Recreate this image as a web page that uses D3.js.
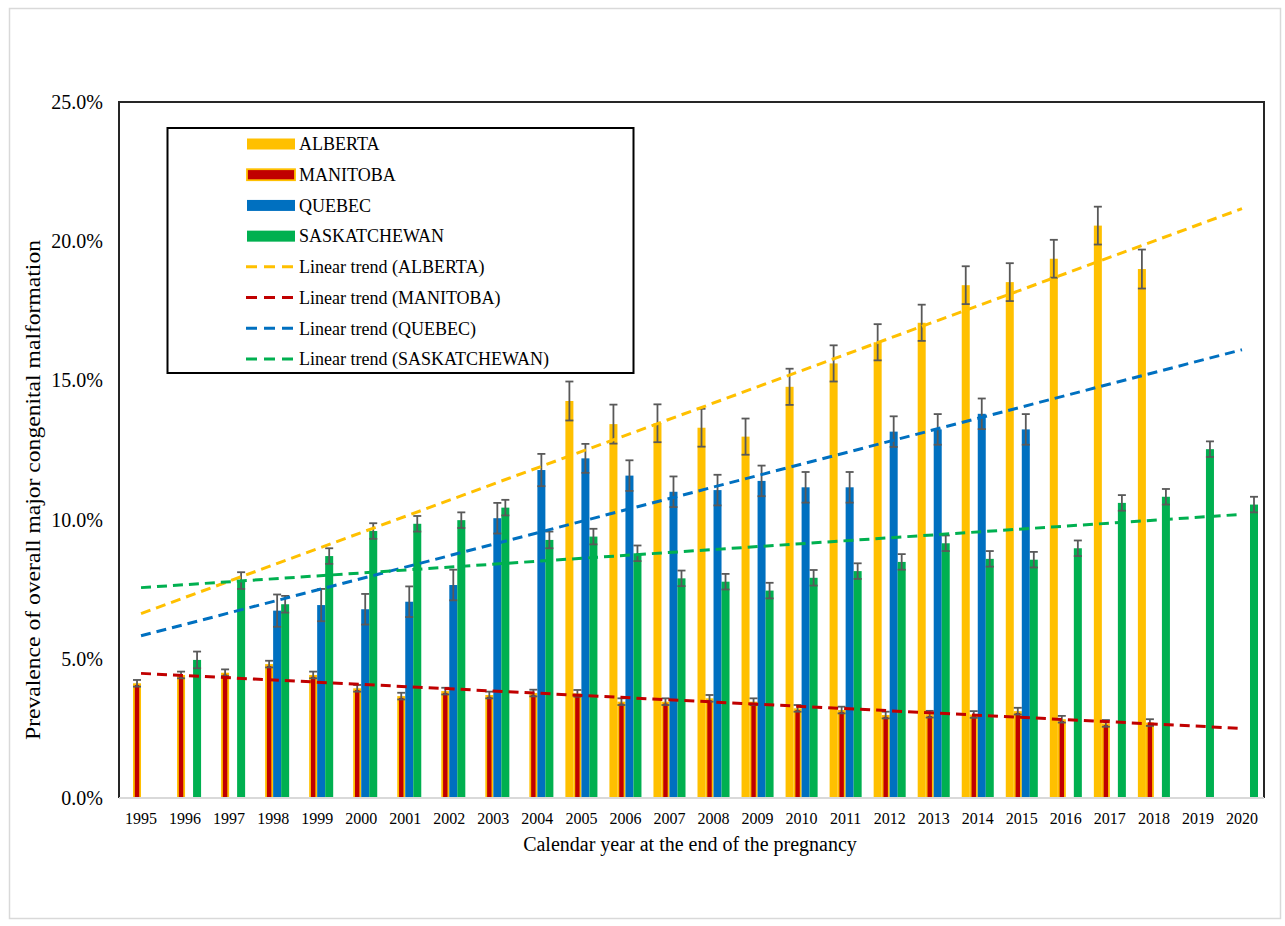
<!DOCTYPE html>
<html>
<head>
<meta charset="utf-8">
<script src="https://cdn.jsdelivr.net/npm/d3@7"></script>
<style>
  body { margin: 0; background: #fff; }
  text { font-family: "Liberation Serif", "Times New Roman", serif; fill: #000; }
</style>
</head>
<body>
<div id="chart"></div>
<script>
// values in percent, null = no data for that year
const years = ["1995","1996","1997","1998","1999","2000","2001","2002","2003","2004","2005","2006","2007",
               "2008","2009","2010","2011","2012","2013","2014","2015","2016","2017","2018","2019","2020"];

const alberta   = [null,null,null,null,null,null,null,null,null,null,
                   14.26,13.43,13.46,13.30,12.98,14.77,15.61,16.37,17.07,18.42,18.53,19.37,20.56,19.00,null,null];
const albertaErr = [null,null,null,null,null,null,null,null,null,null,
                   0.70,0.70,0.68,0.68,0.65,0.65,0.65,0.65,0.65,0.68,0.68,0.68,0.68,0.70,null,null];

const manitoba  = [4.12,4.42,4.50,4.81,4.42,3.94,3.66,3.84,3.70,3.77,3.76,3.46,3.46,
                   3.58,3.46,3.22,3.16,2.98,3.01,3.00,3.12,2.83,2.68,2.71,null,null];
const manitobaErr = [0.12,0.12,0.12,0.12,0.12,0.12,0.12,0.12,0.12,0.12,0.12,0.12,0.12,
                   0.12,0.12,0.12,0.12,0.12,0.12,0.12,0.12,0.12,0.12,0.12,null,null];

const quebec    = [null,null,null,6.73,6.93,6.78,7.05,7.65,10.05,11.78,12.20,11.58,11.00,
                   11.06,11.39,11.16,11.16,13.16,13.24,13.80,13.24,null,null,null,null,null];
const quebecErr = [null,null,null,0.58,0.58,0.55,0.55,0.55,0.55,0.58,0.52,0.55,0.55,
                   0.55,0.55,0.55,0.55,0.55,0.55,0.55,0.55,null,null,null,null,null];

const sask      = [null,4.96,7.81,6.96,8.69,9.59,9.85,9.98,10.43,9.27,9.39,8.79,7.89,
                   7.77,7.45,7.91,8.15,8.48,9.15,8.59,8.56,8.97,10.60,10.82,12.53,10.54];
const saskErr   = [null,0.30,0.30,0.30,0.28,0.28,0.28,0.28,0.28,0.30,0.28,0.28,0.28,
                   0.28,0.28,0.28,0.28,0.28,0.28,0.28,0.28,0.28,0.28,0.28,0.28,0.28];

const yTicks = [0, 5, 10, 15, 20, 25];

const series = [
    {name:"ALBERTA", values:alberta, err:albertaErr, color:"#FFC000"},
    {name:"MANITOBA", values:manitoba, err:manitobaErr, color:"#C00000"},
    {name:"QUEBEC", values:quebec, err:quebecErr, color:"#0070C0"},
    {name:"SASKATCHEWAN", values:sask, err:saskErr, color:"#00B050"}
];

var width = 1285, height = 926;
var plot = {left: 119, right: 1264, top: 102, bottom: 798};

var svg = d3.select("#chart")
    .append("svg")
    .attr("width", width)
    .attr("height", height);

svg.append("rect")
    .attr("x", 0).attr("y", 0)
    .attr("width", width).attr("height", height)
    .attr("fill", "#fff");

// light outer frame
svg.append("rect")
    .attr("x", 9.5).attr("y", 8.5)
    .attr("width", 1271).attr("height", 910)
    .attr("fill", "none")
    .attr("stroke", "#d9d9d9")
    .attr("stroke-width", 1.5);

var x = d3.scaleBand()
    .domain(years)
    .range([plot.left, plot.right]);

var xSub = d3.scaleBand()
    .domain(series.map(s => s.name))
    .range([6, x.bandwidth() - 6]);

var y = d3.scaleLinear()
    .domain([0, 25])
    .range([plot.bottom, plot.top]);

// y axis labels
svg.append("g")
    .attr("transform", "translate(" + plot.left + ",0)")
    .call(d3.axisLeft(y)
        .tickValues(yTicks)
        .tickSize(0)
        .tickPadding(16)
        .tickFormat(d => d.toFixed(1) + "%"))
    .call(g => g.select(".domain").remove())
    .call(g => g.selectAll("text")
        .attr("font-family", "Liberation Serif, Times New Roman, serif")
        .attr("font-size", 20)
        .attr("fill", "#000"));

// x axis labels
svg.append("g")
    .attr("transform", "translate(0," + plot.bottom + ")")
    .call(d3.axisBottom(x).tickSize(0).tickPadding(15))
    .call(g => g.select(".domain").remove())
    .call(g => g.selectAll("text")
        .attr("font-family", "Liberation Serif, Times New Roman, serif")
        .attr("font-size", 16)
        .attr("fill", "#000"));

// bars
series.forEach(s => {
    var pts = years.map((yr, i) => ({year: yr, v: s.values[i], e: s.err[i]})).filter(d => d.v != null);
    var bars = svg.append("g").selectAll("rect")
        .data(pts)
        .enter().append("rect")
        .attr("fill", s.color);
    if (s.name == "MANITOBA") {
        bars.attr("x", d => x(d.year) + xSub(s.name) + 0.9)
            .attr("y", d => y(d.v) + 0.9)
            .attr("width", xSub.bandwidth() - 1.8)
            .attr("height", d => y(0) - y(d.v) - 0.9)
            .attr("stroke", "#FFC000")
            .attr("stroke-width", 1.8);
    } else {
        bars.attr("x", d => x(d.year) + xSub(s.name))
            .attr("y", d => y(d.v))
            .attr("width", xSub.bandwidth())
            .attr("height", d => y(0) - y(d.v));
    }
});

// error bars
series.forEach(s => {
    var pts = years.map((yr, i) => ({year: yr, v: s.values[i], e: s.err[i]})).filter(d => d.v != null);
    var g = svg.append("g")
        .attr("stroke", "#595959")
        .attr("stroke-width", 1.8)
        .attr("fill", "none");
    pts.forEach(d => {
        var cx = x(d.year) + xSub(s.name) + xSub.bandwidth() / 2;
        var y0 = y(d.v - d.e), y1 = y(d.v + d.e);
        g.append("line").attr("x1", cx).attr("x2", cx).attr("y1", y0).attr("y2", y1);
        g.append("line").attr("x1", cx - 4).attr("x2", cx + 4).attr("y1", y0).attr("y2", y0);
        g.append("line").attr("x1", cx - 4).attr("x2", cx + 4).attr("y1", y1).attr("y2", y1);
    });
});

// plot frame, gray category axis on the bottom
svg.append("path")
    .attr("d", "M" + plot.left + "," + plot.bottom + "V" + plot.top + "H" + plot.right + "V" + plot.bottom)
    .attr("fill", "none")
    .attr("stroke", "#262626")
    .attr("stroke-width", 2);
svg.append("line")
    .attr("x1", plot.left).attr("x2", plot.right)
    .attr("y1", plot.bottom).attr("y2", plot.bottom)
    .attr("stroke", "#d9d9d9")
    .attr("stroke-width", 2);

// least squares trend on category index, like excel does
function linearFit(values) {
    var pts = values.map((v, i) => [i + 1, v]).filter(p => p[1] != null);
    var mx = d3.mean(pts, p => p[0]), my = d3.mean(pts, p => p[1]);
    var sxy = d3.sum(pts, p => (p[0] - mx) * (p[1] - my));
    var sxx = d3.sum(pts, p => (p[0] - mx) * (p[0] - mx));
    var slope = sxy / sxx;
    return i => my + slope * (i + 1 - mx);
}

var trendLine = d3.line()
    .x(d => x(d.year) + x.bandwidth() / 2)
    .y(d => y(d.v));

series.forEach(s => {
    var f = linearFit(s.values);
    var ends = [{year: years[0], v: f(0)}, {year: years[years.length - 1], v: f(years.length - 1)}];
    svg.append("path")
        .datum(ends)
        .attr("fill", "none")
        .attr("stroke", s.color)
        .attr("stroke-width", 3)
        .attr("stroke-dasharray", "10,6")
        .attr("d", trendLine);
});

// legend
var legend = svg.append("g");
legend.append("rect")
    .attr("x", 167.5).attr("y", 128)
    .attr("width", 466).attr("height", 245)
    .attr("fill", "#fff")
    .attr("stroke", "#000")
    .attr("stroke-width", 2);

var rowY = d3.scalePoint()
    .domain(d3.range(8))
    .range([144, 359]);

series.forEach((s, i) => {
    var yy = rowY(i);
    var r = legend.append("rect")
        .attr("x", 247).attr("y", yy - 5.5)
        .attr("width", 48).attr("height", 11)
        .attr("fill", s.color);
    if (s.name == "MANITOBA") r.attr("stroke", "#FFC000").attr("stroke-width", 1.8);
    legend.append("text")
        .attr("x", 299).attr("y", yy)
        .attr("dy", "0.35em")
        .attr("font-size", 18)
        .text(s.name);
});
series.forEach((s, i) => {
    var yy = rowY(i + 4);
    legend.append("line")
        .attr("x1", 246).attr("x2", 294)
        .attr("y1", yy).attr("y2", yy)
        .attr("stroke", s.color)
        .attr("stroke-width", 3)
        .attr("stroke-dasharray", "11,7");
    legend.append("text")
        .attr("x", 299).attr("y", yy)
        .attr("dy", "0.35em")
        .attr("font-size", 18)
        .text("Linear trend (" + s.name + ")");
});

// axis titles
svg.append("text")
    .attr("transform", "translate(40,490) rotate(-90)")
    .attr("text-anchor", "middle")
    .attr("font-size", 22)
    .attr("textLength", 500)
    .attr("lengthAdjust", "spacingAndGlyphs")
    .text("Prevalence of overall major congenital malformation");

svg.append("text")
    .attr("x", 690).attr("y", 851)
    .attr("text-anchor", "middle")
    .attr("font-size", 20)
    .text("Calendar year at the end of the pregnancy");
</script>
</body>
</html>
